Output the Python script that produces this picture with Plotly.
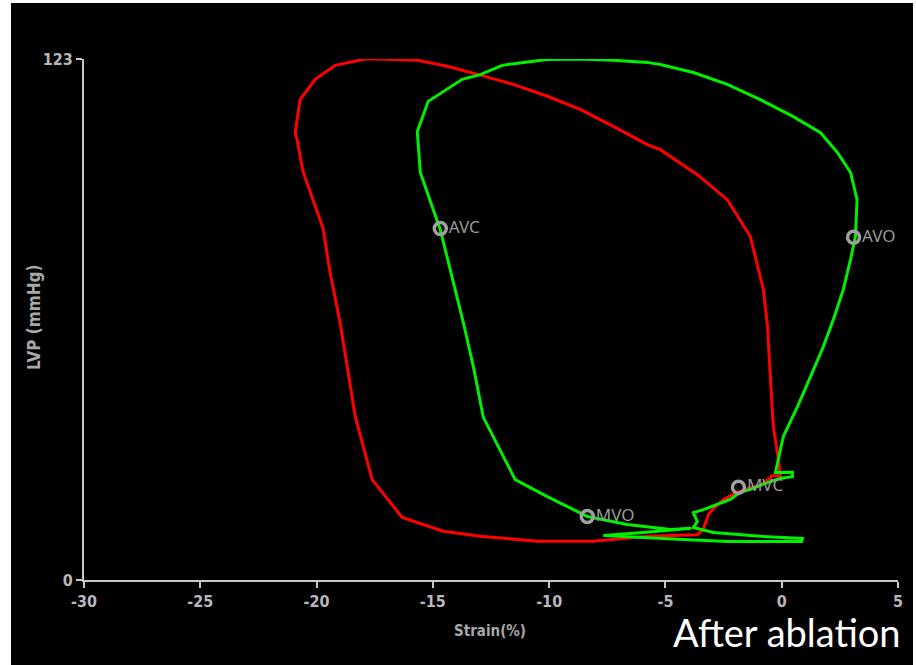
import plotly.graph_objects as go

# ---- data ----
red_strain = [-17.91, -17.27, -15.67, -14.38, -12.96, -11.54, -10.08, -8.66, -7.24, -5.78,
              -5.22, -3.63, -2.34, -1.35, -0.79, -0.61, -0.49, -0.36, -0.14, -0.06,
              -0.06, -0.49, -0.44, -0.92, -1.35, -1.91, -2.51, -2.98, -3.15, -3.37,
              -3.63, -5.78, -6.38, -8.10, -10.51, -12.96, -14.55, -16.32, -17.61, -18.34,
              -18.64, -18.99, -19.42, -19.72, -20.19, -20.58, -20.84, -20.92, -20.71, -20.06,
              -19.20, -17.91]
red_lvp = [123.0, 123.0, 122.7, 121.3, 119.2, 117.0, 114.2, 111.1, 107.1, 102.8,
           101.6, 95.7, 89.8, 81.1, 68.6, 59.8, 48.0, 36.2, 28.4, 25.4,
           24.7, 24.55, 24.4, 22.3, 21.8, 20.7, 19.0, 16.6, 15.5, 11.9,
           10.7, 10.3, 9.96, 9.16, 9.16, 10.34, 11.52, 14.76, 23.7, 38.6,
           49.0, 60.8, 72.6, 83.0, 90.3, 96.4, 104.0, 105.6, 113.4, 118.2,
           121.5, 123.0]

green_strain = [-10.08, -8.66, -7.24, -5.78, -5.22, -3.80, -2.34, -0.92, 0.50, 1.67,
                2.40, 2.96, 3.24, 3.17, 2.96, 2.65, 2.22, 1.79, 1.24, 0.68,
                0.07, -0.27, 0.46, 0.46, -0.06, -0.61, -1.35, -1.78, -2.21, -2.77,
                -3.37, -3.80, -3.63, -3.80, -2.94, -0.92, 0.89, 0.85, -2.34, -4.23,
                -7.67, -5.95, -3.90, -4.79, -6.64, -8.36, -10.08, -11.46, -12.83, -13.26,
                -13.69, -14.12, -14.68, -15.03, -15.54, -15.67, -15.20, -13.74, -12.96, -12.02,
                -10.08]
green_lvp = [122.9, 123.0, 122.7, 122.2, 121.7, 119.8, 117.0, 113.4, 109.4, 105.6,
             100.9, 96.2, 89.8, 81.1, 75.7, 68.6, 61.5, 55.1, 48.0, 41.0,
             33.9, 25.4, 25.45, 24.4, 24.0, 23.0, 21.4, 20.7, 19.0, 17.8,
             16.6, 15.9, 13.8, 12.4, 11.2, 10.3, 9.8, 9.1, 9.1, 9.56,
             10.5, 11.2, 12.2, 11.9, 13.1, 15.0, 19.7, 23.7, 38.4, 50.4,
             60.8, 70.2, 82.7, 88.2, 96.2, 105.9, 113.0, 118.2, 119.3, 121.5,
             122.9]

event_labels = ["AVC", "AVO", "MVO", "MVC"]
event_strain = [-14.68, 3.09, -8.36, -1.86]
event_lvp = [83.0, 80.9, 15.0, 21.9]

x_tick_values = [-30, -25, -20, -15, -10, -5, 0, 5]
x_tick_labels = ["-30", "-25", "-20", "-15", "-10", "-5", "0", "5"]
y_tick_values = [0, 123]
y_tick_labels = ["0", "123"]

# ---- figure ----
W, H = 916, 665
ML, MR, MT, MB = 84, 18, 59, 85
PW, PH = W - ML - MR, H - MT - MB

def px_to_paper_x(px):
    return (px - ML) / PW

def px_to_paper_y(py):
    return (H - MB - py) / PH

narrow = "Liberation Sans Narrow, DejaVu Sans Condensed, Arial Narrow"
axis_font = dict(family=narrow, size=16, color="#b8b8bc", weight="bold")

fig = go.Figure()
fig.add_trace(go.Scatter(x=red_strain, y=red_lvp, mode="lines",
                         line=dict(color="#ff0000", width=3), hoverinfo="skip",
                         showlegend=False))
fig.add_trace(go.Scatter(x=green_strain, y=green_lvp, mode="lines",
                         line=dict(color="#00f000", width=3), hoverinfo="skip",
                         showlegend=False))
fig.add_trace(go.Scatter(x=event_strain, y=event_lvp, mode="markers+text",
                         text=event_labels, textposition="middle right",
                         textfont=dict(family="Noto Sans, DejaVu Sans", size=17, color="#9a9a9a"),
                         marker=dict(symbol="circle-open", size=12, color="#a0a0a0",
                                     line=dict(width=3.5, color="#a0a0a0")),
                         hoverinfo="skip", showlegend=False))

# black panel with thin white border strips, like the reference
fig.add_shape(type="rect", xref="paper", yref="paper", layer="below",
              x0=px_to_paper_x(11), x1=px_to_paper_x(913),
              y0=px_to_paper_y(670), y1=px_to_paper_y(3),
              fillcolor="#000000", line=dict(width=0))

fig.add_annotation(text="Strain(%)", xref="paper", yref="paper",
                   x=px_to_paper_x(490), y=px_to_paper_y(631),
                   xanchor="center", yanchor="middle", showarrow=False,
                   font=dict(family=narrow, size=15, color="#a8a8a8", weight="bold"))
fig.add_annotation(text="LVP (mmHg)", xref="paper", yref="paper",
                   x=px_to_paper_x(34), y=px_to_paper_y(318), textangle=-90,
                   xanchor="center", yanchor="middle", showarrow=False,
                   font=dict(family=narrow, size=17, color="#a8a8a8", weight="bold"))
fig.add_annotation(text="After ablation", xref="paper", yref="paper",
                   x=px_to_paper_x(903), y=px_to_paper_y(632),
                   xanchor="right", yanchor="middle", showarrow=False,
                   font=dict(family="Lato, Open Sans, Noto Sans", size=38, color="#ffffff"))

fig.update_layout(
    width=W, height=H,
    margin=dict(l=ML, r=MR, t=MT, b=MB, pad=0),
    paper_bgcolor="#ffffff", plot_bgcolor="rgba(0,0,0,0)",
    xaxis=dict(range=[-30, 5], tickvals=x_tick_values, ticktext=x_tick_labels,
               showgrid=False, zeroline=False,
               showline=True, linecolor="#c8c8c8", linewidth=2,
               ticks="outside", ticklen=6, tickwidth=2, tickcolor="#c8c8c8",
               tickfont=axis_font),
    yaxis=dict(range=[0, 123], tickvals=y_tick_values, ticktext=y_tick_labels,
               showgrid=False, zeroline=False,
               showline=True, linecolor="#c8c8c8", linewidth=2,
               ticks="outside", ticklen=6, tickwidth=2, tickcolor="#c8c8c8",
               tickfont=axis_font),
)

fig.write_html("out.html", config={"displayModeBar": False},
               post_script="document.body.style.margin='0';document.body.style.overflow='hidden';")
